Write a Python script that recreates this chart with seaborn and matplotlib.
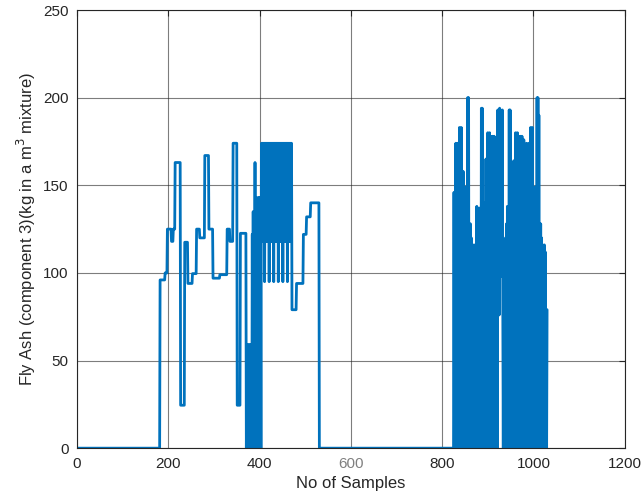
import numpy as np
import pandas as pd
import matplotlib
matplotlib.use("Agg")
import matplotlib.pyplot as plt
import seaborn as sns

# Fly ash per sample
# first block: step runs (value, number of samples)
run_vals_a = [0, 96, 100, 125, 118, 125, 163, 24.5, 117.5, 94, 99.6, 125, 120,
              167, 125, 97, 99, 125, 118, 174, 24.5, 122.6]
run_counts_a = [181, 11, 5, 9, 4, 4, 12, 9, 7, 10, 9, 7, 11,
                9, 9, 15, 16, 6, 7, 9, 7, 13]

# samples 371-403, rapidly switching
dense_vals = [0, 59, 0, 59, 0, 59, 0, 59, 0, 59, 0, 59,
              0, 122, 0, 135, 0, 122,
              0, 163, 0, 122, 0,
              143, 0, 122, 0, 143, 0, 143, 0, 122, 0]

# samples 404-470, the comb
comb_vals = [174, 118, 174, 118, 174, 118, 174, 95, 174, 118, 174,
             118, 174, 118, 174, 118, 174, 95, 174, 118, 174, 118,
             174, 118, 174, 118, 174, 95, 174, 118, 174, 118, 174,
             118, 174, 118, 174, 95, 174, 118, 174, 118, 174, 118,
             174, 118, 174, 95, 174, 118, 174, 118, 174, 118, 174,
             118, 174, 95, 174, 118, 174, 118, 174, 118, 174, 118,
             174]

run_vals_b = [79, 94, 122, 132, 140]
run_counts_b = [10, 15, 7, 9, 19]

zero_gap = 295  # samples 531-825

# samples 826-1030
late_vals = [146, 0, 142, 0,
             174, 0, 165, 0, 174, 0, 160,
             0, 183, 0, 175, 0, 183, 0,
             149, 0, 158, 0, 149, 0, 142, 0, 149, 0, 136,
             0, 200, 0, 200, 0,
             128, 0, 128, 0, 120,
             0, 116, 0, 113, 0, 116, 0, 112, 0, 112, 0,
             138, 0, 137, 0, 120, 0, 137, 0, 125, 0,
             194, 0, 194, 0,
             140, 0, 136, 0, 140,
             0, 165, 0, 160, 0,
             180, 0, 176, 0, 180, 0,
             178, 0, 170, 0, 178, 0, 171, 0,
             178, 0, 177, 0, 171, 0, 165, 0,
             193, 98, 192, 76, 194, 100, 193, 120, 192, 98, 193, 76,
             0, 113, 0, 116, 0, 120, 0, 128, 0,
             138, 0, 137, 0,
             193, 0, 193, 0,
             134, 0, 130, 0, 134,
             0, 164, 0, 160, 0,
             180, 0, 176, 0, 180, 0,
             178, 0, 172, 0, 178, 0, 170, 0, 178, 0, 165, 0, 176, 0,
             149, 0, 147, 0,
             174, 90, 170, 76,
             0, 174, 0, 165,
             0, 183, 0, 175, 0, 183, 0,
             149, 0, 142, 0, 149, 0, 136,
             0, 200, 0, 200, 0, 190,
             0, 128, 0, 128, 0, 120,
             0, 116, 0, 113, 0, 116, 0, 112,
             0, 79, 0, 79]

fly_ash = np.concatenate([
    np.repeat(run_vals_a, run_counts_a),
    dense_vals,
    comb_vals,
    np.repeat(run_vals_b, run_counts_b),
    np.zeros(zero_gap),
    late_vals,
])
df = pd.DataFrame({"sample": np.arange(1, len(fly_ash) + 1), "fly_ash": fly_ash})

sns.set_style("white")
plt.rcParams["font.family"] = ["Liberation Sans", "DejaVu Sans"]

fig = plt.figure(figsize=(6.42, 5.03), dpi=100)
ax = fig.add_axes([0.12, 0.109, 0.853, 0.871])

sns.lineplot(data=df, x="sample", y="fly_ash", color="#0072BD", linewidth=2,
             estimator=None, ax=ax)

ax.set_xlim(0, 1200)
ax.set_ylim(0, 250)
ax.set_xticks(np.arange(0, 1201, 200))
ax.set_yticks(np.arange(0, 251, 50))
ax.grid(True, color="#262626", alpha=0.6, linewidth=0.8)
ax.set_axisbelow(True)
for sp in ax.spines.values():
    sp.set_color("#262626")
    sp.set_linewidth(0.8)
ax.tick_params(direction="in", length=4, labelsize=11, colors="#262626",
               top=True, right=True, pad=6)
ax.get_xticklabels()[3].set_color("#808080")

ax.set_xlabel("No of Samples", fontsize=12, color="#262626")
ax.set_ylabel("Fly Ash (component 3)(kg in a m$^3$ mixture)", fontsize=12,
              color="#262626")

fig.savefig("out.png", dpi=100)
plt.close(fig)
